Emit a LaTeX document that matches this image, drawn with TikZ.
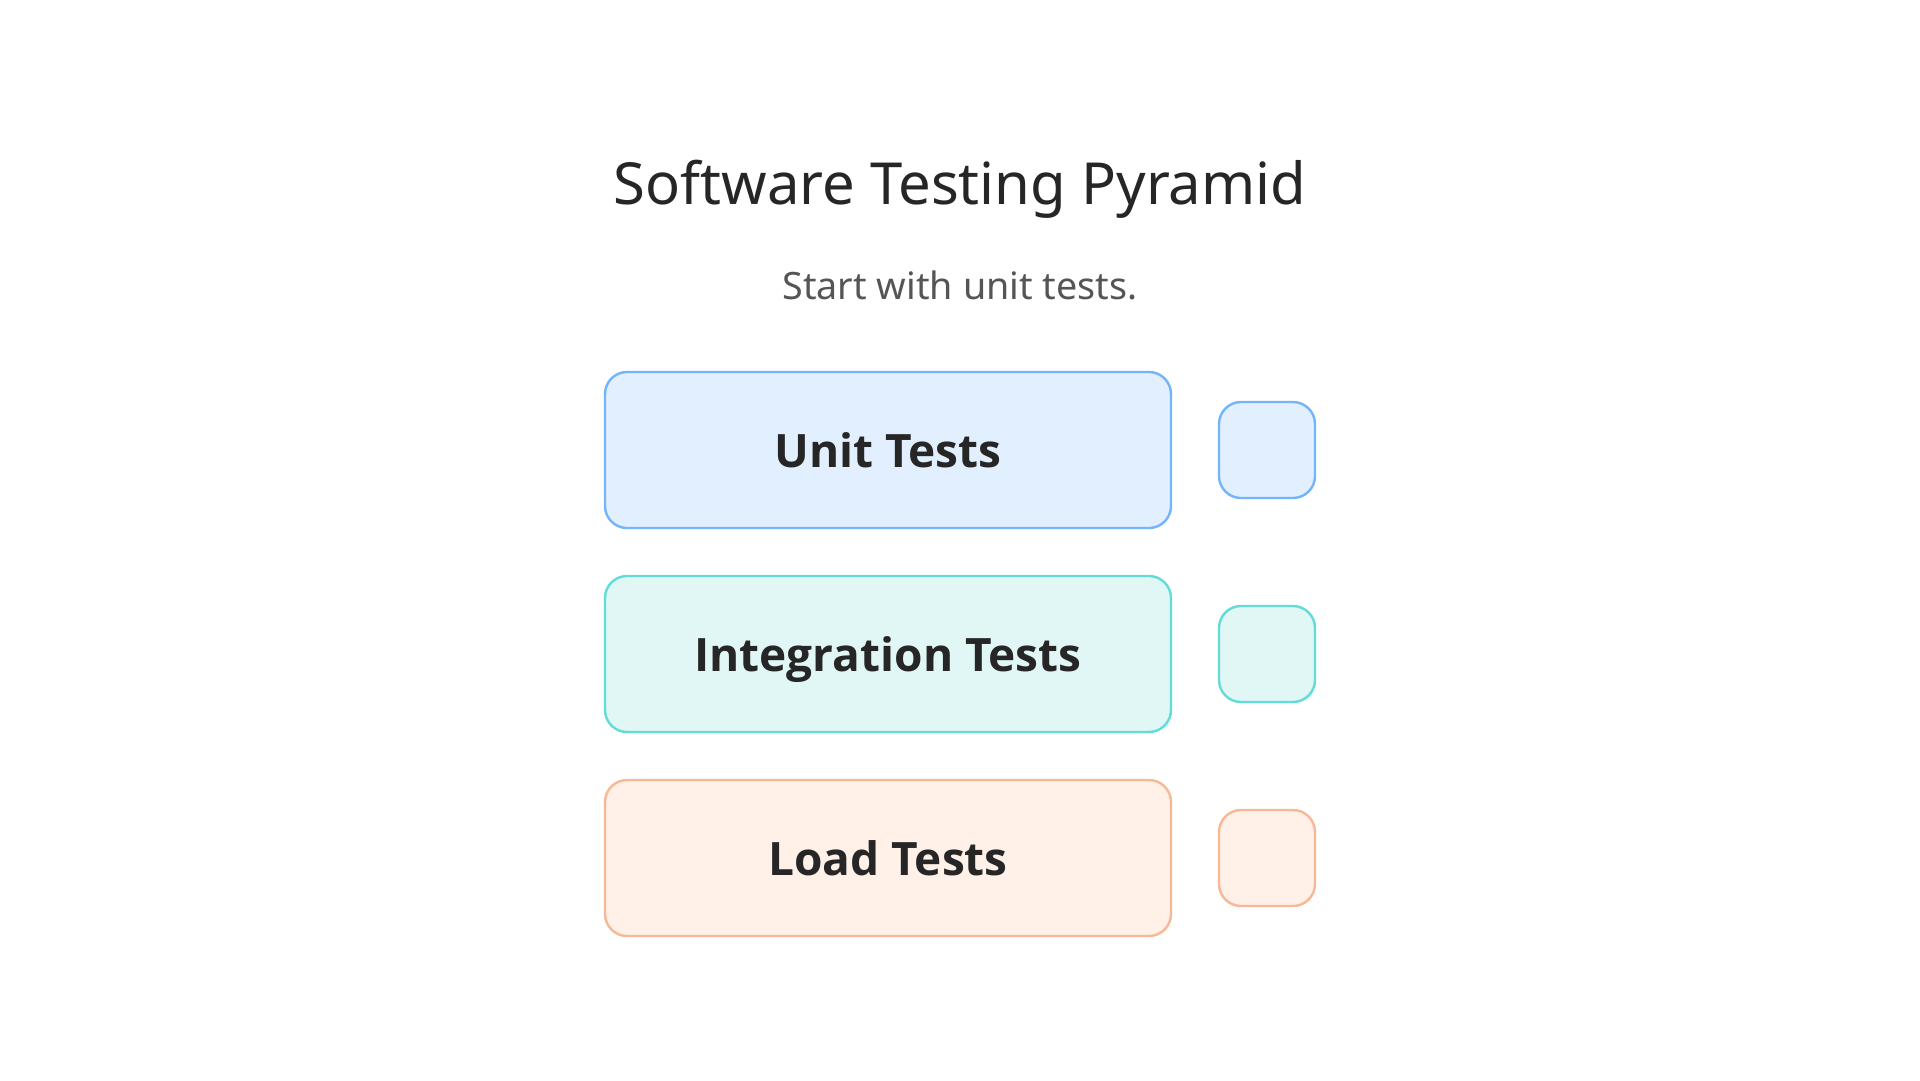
\documentclass[tikz,border=0pt]{standalone}
\usepackage{fontspec}
\setmainfont{Noto Sans}
\newfontfamily\lblfont{Open Sans}
\begin{document}
\begin{tikzpicture}[x=1pt,y=-1pt,
  bigbox/.style={draw, line width=2.4pt, rounded corners=22pt, minimum width=566pt, minimum height=156pt, inner sep=0pt, text height=34pt, text depth=0pt, font=\lblfont\bfseries\fontsize{46}{50}\selectfont, text=txt},
  smallbox/.style={draw, line width=2.4pt, rounded corners=22pt, minimum width=96pt, minimum height=96pt, inner sep=0pt}]
\definecolor{txt}{HTML}{262626}
\definecolor{sub}{HTML}{555555}
\definecolor{bfill}{HTML}{E2EFFE}
\definecolor{bline}{HTML}{74B4F8}
\definecolor{tfill}{HTML}{E0F7F6}
\definecolor{tline}{HTML}{62DCD6}
\definecolor{ofill}{HTML}{FFF0E8}
\definecolor{oline}{HTML}{F8B895}
\useasboundingbox (0,0) rectangle (1920,1080);
\fill[white] (0,0) rectangle (1920,1080);
\node[text=txt, font=\fontsize{58}{64}\selectfont] (title) at (960,189) {Software Testing Pyramid};
\node[text=sub, font=\fontsize{37.7}{42}\selectfont] (subtitle) at (960,285) {Start with unit tests.};
\node[bigbox, fill=bfill, draw=bline] (unit) at (888,450) {Unit Tests};
\node[bigbox, fill=tfill, draw=tline] (integ) at (888,654) {Integration Tests};
\node[bigbox, fill=ofill, draw=oline] (load) at (888,858) {Load Tests};
\node[smallbox, fill=bfill, draw=bline] (s1) at (1267,450) {};
\node[smallbox, fill=tfill, draw=tline] (s2) at (1267,654) {};
\node[smallbox, fill=ofill, draw=oline] (s3) at (1267,858) {};
\end{tikzpicture}
\end{document}
